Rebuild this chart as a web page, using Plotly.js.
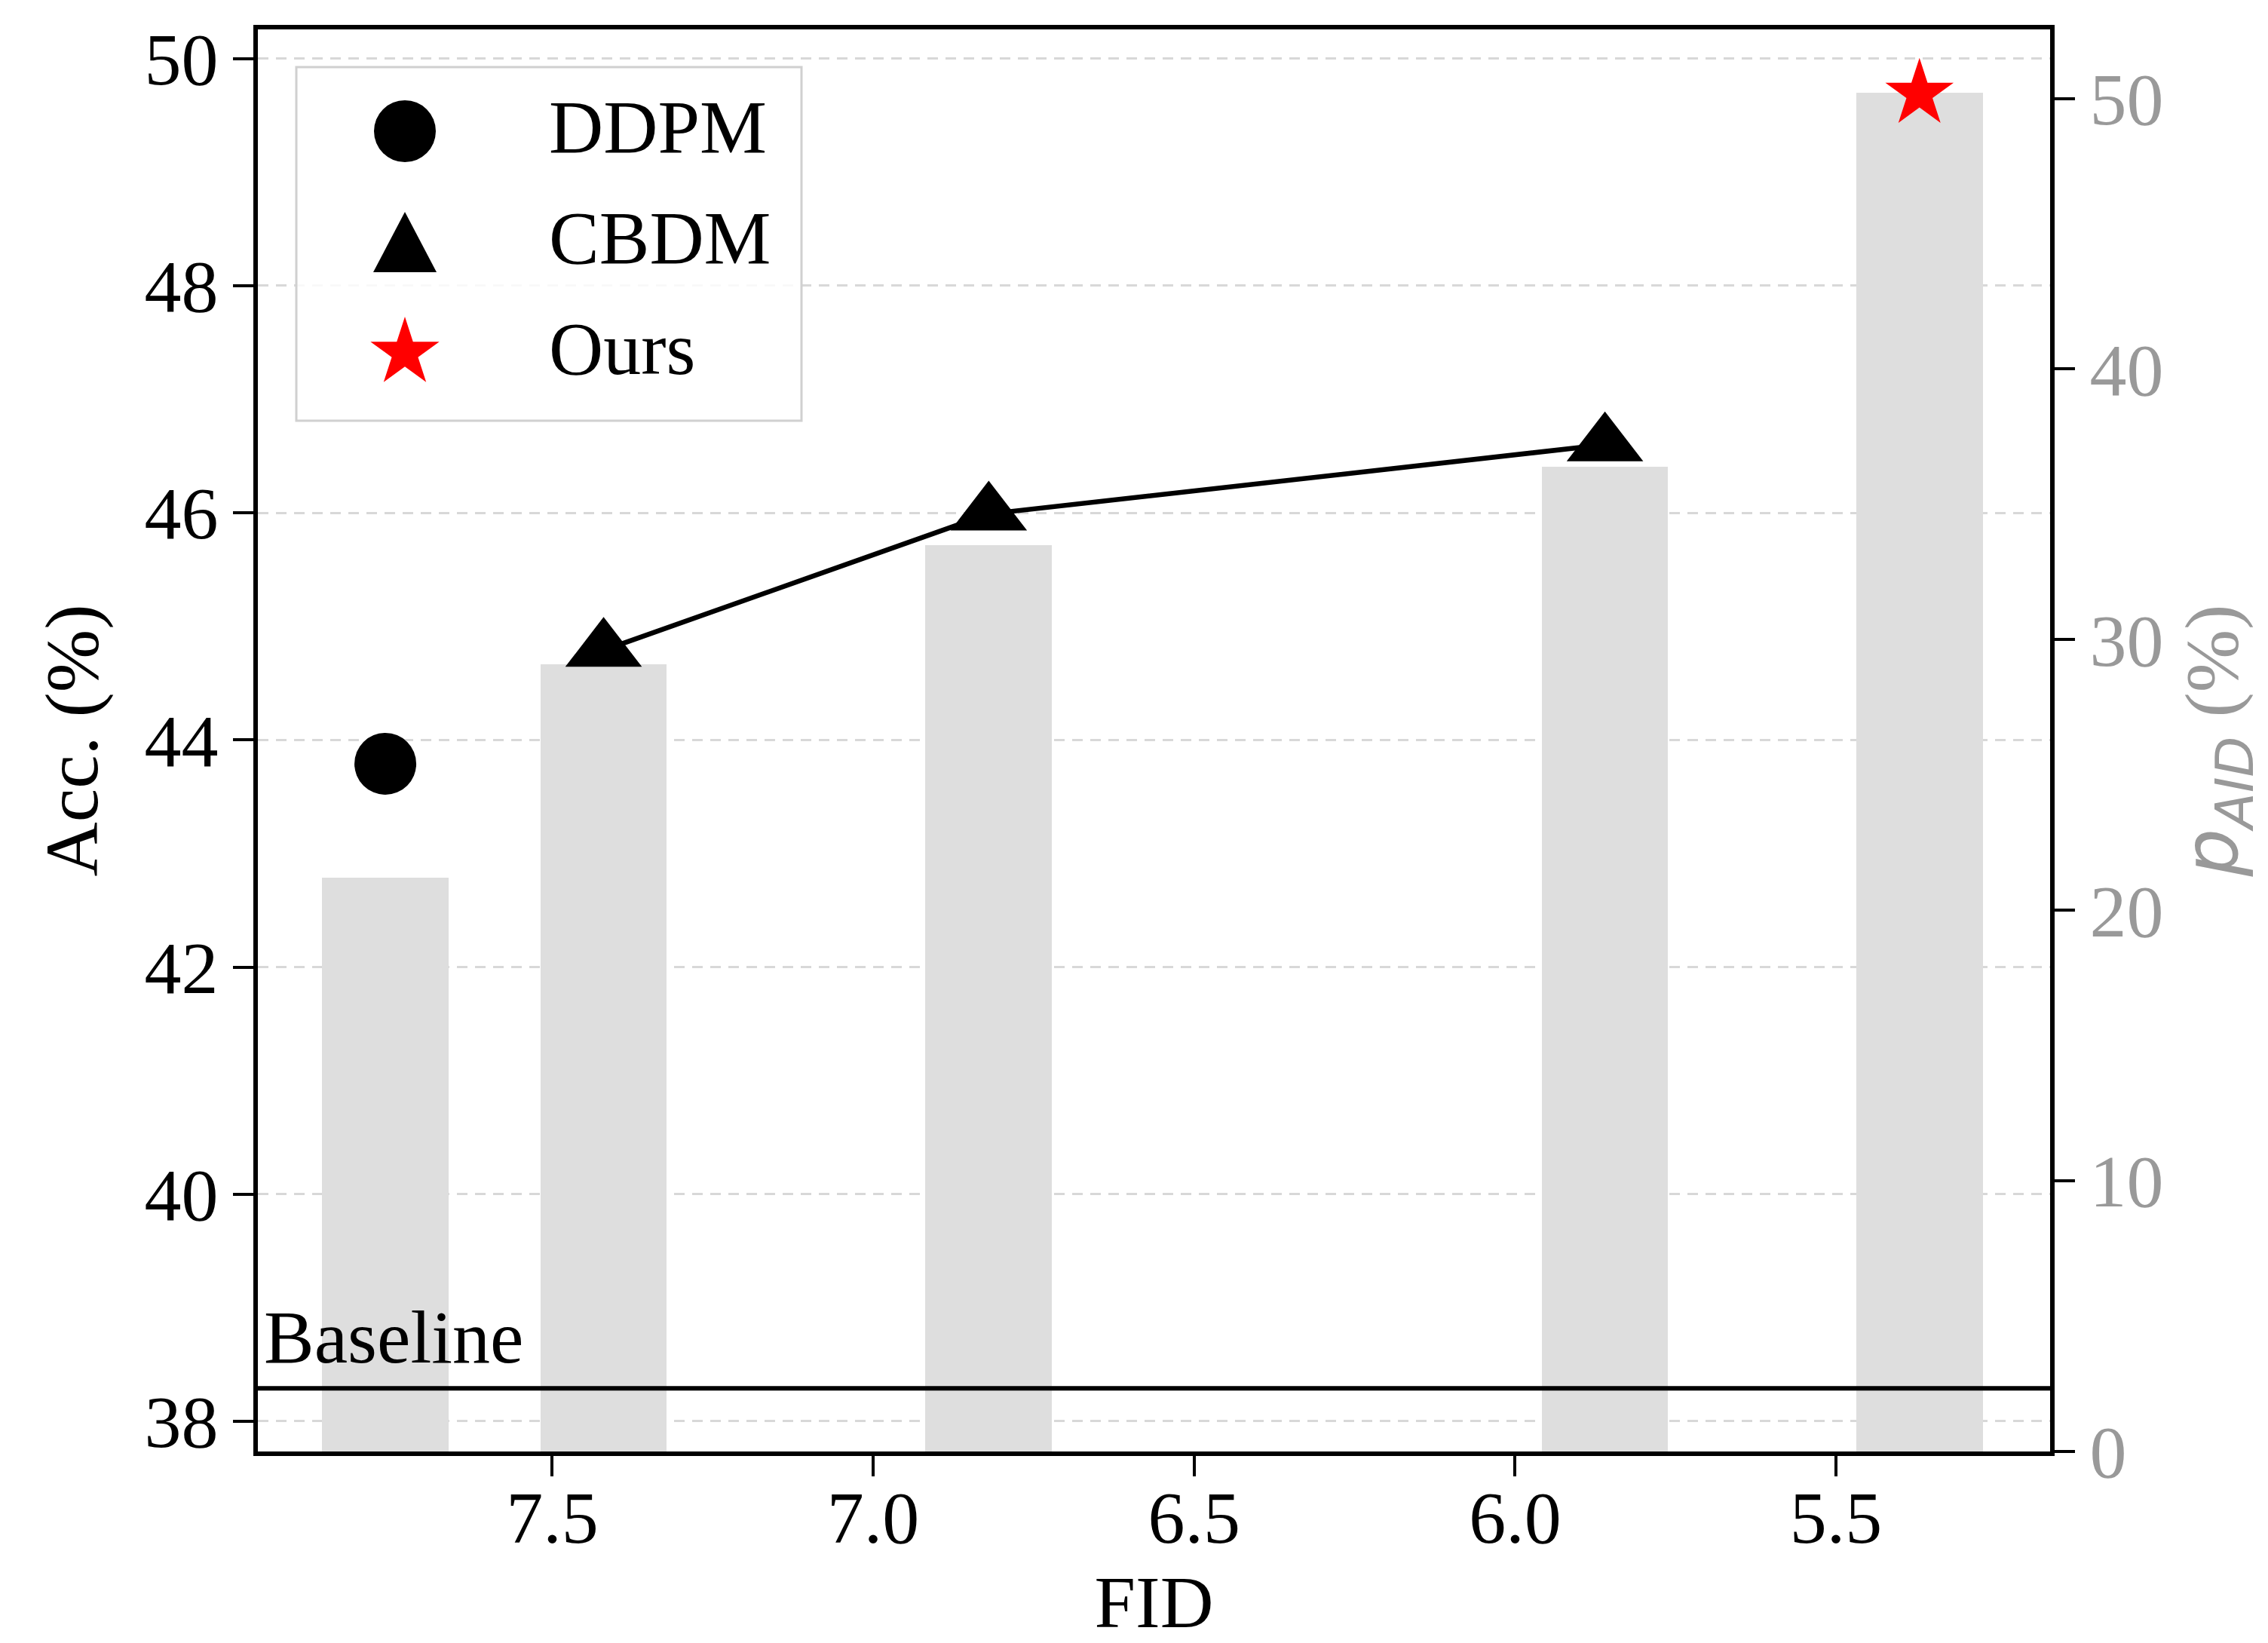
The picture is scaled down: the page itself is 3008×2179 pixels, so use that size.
<!DOCTYPE html>
<html><head><meta charset="utf-8">
<script src="https://cdn.plot.ly/plotly-3.0.1.min.js"></script>
<style>html,body{margin:0;padding:0;background:#fff}</style>
</head><body><div id="chart" style="width:3008px;height:2179px"></div>
<script>
// ---- data ----
const methods = ['DDPM', 'CBDM', 'CBDM', 'CBDM', 'Ours'];
const fid = [7.76, 7.42, 6.82, 5.86, 5.37];
const acc = [43.79, 44.79, 45.99, 46.60, 49.69];
const pAID = [21.2, 29.1, 33.5, 36.4, 50.2];
const baselineAcc = 38.29;
const baselineLabel = 'Baseline';
const xTickVals = [7.5, 7.0, 6.5, 6.0, 5.5];
const xTickText = ['7.5', '7.0', '6.5', '6.0', '5.5'];
const legendNames = ['DDPM', 'CBDM', 'Ours'];

// ---- helpers ----
function pick(arr, name) { return arr.filter((v, i) => methods[i] === name); }
const SERIF = 'Liberation Serif, Times New Roman, serif';
const FS = 98;

const traces = [
  { type: 'bar', x: fid, y: pAID, xaxis: 'x', yaxis: 'y', width: 0.197,
    marker: { color: '#dedede', line: { width: 0 } }, showlegend: false, name: 'p_AID' },
  { type: 'scatter', mode: 'lines', x: pick(fid, 'CBDM'), y: pick(acc, 'CBDM'), xaxis: 'x', yaxis: 'y2',
    line: { color: '#000', width: 6.5 }, showlegend: false, name: 'CBDM line' },
  { type: 'scatter', mode: 'markers', x: pick(fid, 'DDPM'), y: pick(acc, 'DDPM'), xaxis: 'x', yaxis: 'y2',
    marker: { symbol: 'circle', size: 82, color: '#000' }, name: legendNames[0], showlegend: false },
  { type: 'scatter', mode: 'markers', x: pick(fid, 'CBDM'), y: pick(acc, 'CBDM'), xaxis: 'x', yaxis: 'y2',
    marker: { symbol: 'triangle-up', size: 88, color: '#000' }, name: legendNames[1], showlegend: false },
  { type: 'scatter', mode: 'markers', x: pick(fid, 'Ours'), y: pick(acc, 'Ours'), xaxis: 'x', yaxis: 'y2',
    marker: { symbol: 'star', size: 68, color: '#ff0000' }, name: legendNames[2], showlegend: false }
];

// ---- custom legend (large keys, matplotlib-like) ----
const LX = 195;            // key centre, px from plot left
const LY = [-135, -282, -429]; // key centres, px from plot top (up positive)
const TX = 384;            // text left, px from plot left
function anch(o) {
  return Object.assign({ xref: 'paper', yref: 'paper', xsizemode: 'pixel', ysizemode: 'pixel', xanchor: 0, yanchor: 1 }, o);
}
function starPath(cx, cy, R) {
  const r = R * 0.382; let d = '';
  for (let k = 0; k < 10; k++) {
    const ang = Math.PI / 2 + k * Math.PI / 5;
    const rr = (k % 2 === 0) ? R : r;
    d += (k === 0 ? 'M' : 'L') + (cx + rr * Math.cos(ang)).toFixed(2) + ',' + (cy + rr * Math.sin(ang)).toFixed(2);
  }
  return d + 'Z';
}
const shapes = [
  { type: 'line', xref: 'paper', yref: 'y2', x0: 0, x1: 1, y0: baselineAcc, y1: baselineAcc,
    line: { color: '#000', width: 6 }, layer: 'above' },
  anch({ type: 'rect', x0: 51, x1: 721, y0: -50, y1: -519, fillcolor: 'rgba(255,255,255,0.85)',
    line: { color: '#d0d0d0', width: 3 }, layer: 'above' }),
  anch({ type: 'circle', x0: LX - 41, x1: LX + 41, y0: LY[0] - 41, y1: LY[0] + 41, fillcolor: '#000',
    line: { width: 0 }, layer: 'above' }),
  anch({ type: 'path', path: 'M' + (LX - 42) + ',' + (LY[1] - 40) + 'L' + (LX + 42) + ',' + (LY[1] - 40) + 'L' + LX + ',' + (LY[1] + 40) + 'Z',
    fillcolor: '#000', line: { width: 0 }, layer: 'above' }),
  anch({ type: 'path', path: starPath(LX, LY[2], 48), fillcolor: '#ff0000', line: { width: 0 }, layer: 'above' })
];

const annotations = legendNames.map((n, i) => ({
  xref: 'paper', yref: 'paper', x: 0, y: 1, xshift: TX, yshift: LY[i] + 6, xanchor: 'left', yanchor: 'middle',
  text: n, showarrow: false, font: { family: SERIF, size: 100, color: '#000' }
}));
annotations.push({
  xref: 'paper', yref: 'y2', x: 0, y: baselineAcc, xshift: 6, yshift: 10, xanchor: 'left', yanchor: 'bottom',
  text: baselineLabel, showarrow: false, font: { family: SERIF, size: 100, color: '#000' }
});

const layout = {
  width: 3008, height: 2179,
  margin: { l: 342, r: 289, t: 39, b: 254, pad: 0 },
  paper_bgcolor: '#fff', plot_bgcolor: '#fff',
  font: { family: SERIF, size: FS, color: '#000' },
  showlegend: false,
  bargap: 0,
  xaxis: {
    range: [7.9586, 5.1665], tickmode: 'array', tickvals: xTickVals, ticktext: xTickText,
    ticks: 'outside', ticklen: 27, tickwidth: 4, tickcolor: '#000', ticklabelstandoff: -30,
    showline: true, linecolor: '#000', linewidth: 6, mirror: true,
    showgrid: false, zeroline: false, tickfont: { family: SERIF, size: FS, color: '#000' },
    title: { text: 'FID', font: { family: SERIF, size: 98, color: '#000' }, standoff: 40 }
  },
  yaxis: {
    side: 'right', range: [0, 52.55], tick0: 0, dtick: 10,
    ticks: 'outside', ticklen: 27, tickwidth: 4, tickcolor: '#000',
    showline: true, linecolor: '#000', linewidth: 6,
    showgrid: false, zeroline: false, tickfont: { family: SERIF, size: FS, color: '#999' },
    title: { text: '<span style="font-family:DejaVu Sans"><i>p</i><sub><i>AID</i></sub></span> (%)',
      font: { family: SERIF, size: 100, color: '#999' }, standoff: 30 }
  },
  yaxis2: {
    overlaying: 'y', side: 'left', range: [37.734, 50.257], tick0: 0, dtick: 2,
    ticks: 'outside', ticklen: 27, tickwidth: 4, tickcolor: '#000',
    showline: true, linecolor: '#000', linewidth: 6,
    showgrid: true, gridcolor: 'rgba(190,190,190,0.6)', gridwidth: 3, griddash: '14px,10px',
    zeroline: false, tickfont: { family: SERIF, size: FS, color: '#000' },
    title: { text: 'Acc. (%)', font: { family: SERIF, size: 100, color: '#000' }, standoff: 30 }
  },
  shapes: shapes,
  annotations: annotations
};

Plotly.newPlot('chart', traces, layout, { staticPlot: true, displayModeBar: false });
</script></body></html>
